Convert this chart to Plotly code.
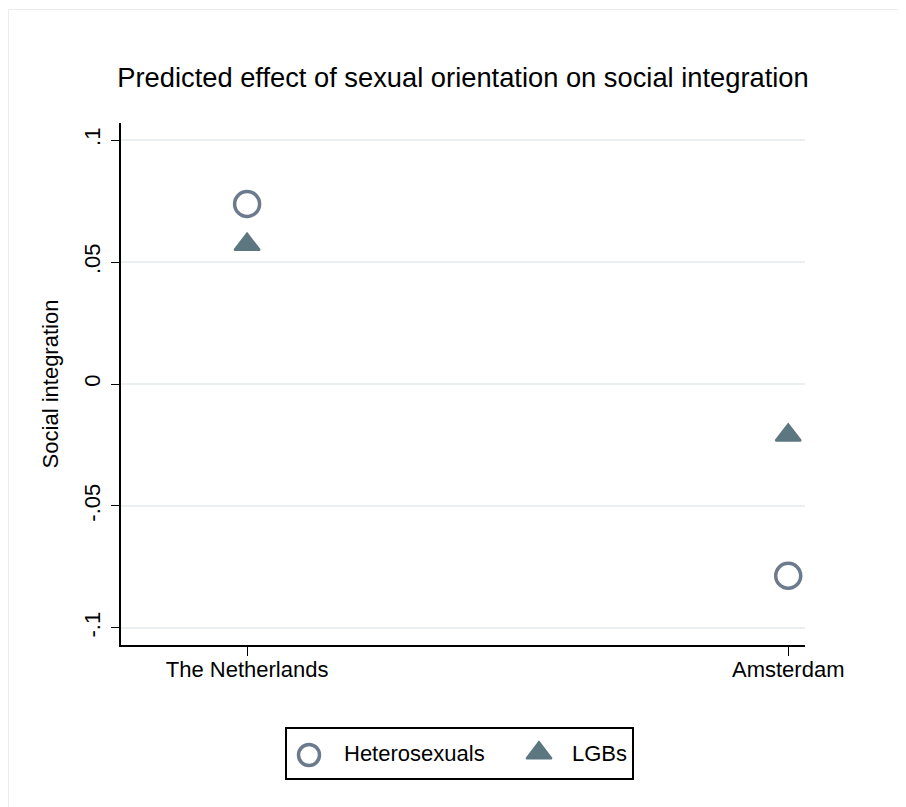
import plotly.graph_objects as go

categories = ["The Netherlands", "Amsterdam"]
cat_pos = [0, 1]
hetero = [0.0738, -0.0786]
lgb = [0.0572, -0.0210]
ytick_vals = [-0.1, -0.05, 0, 0.05, 0.1]
ytick_text = ["-.1", "-.05", "0", ".05", ".1"]
series_names = ["Heterosexuals", "LGBs"]

font_family = "Liberation Sans, Arial, sans-serif"
circle_color = "#6b7a8d"
tri_color = "#5d7781"

# figure is placed at an 8px page margin
W, H = 898, 799
L, R, T, B = 113, 797, 115, 637          # main plot area (figure px)
LL, LR, LT, LB = 279, 624, 721, 770      # legend box (figure px)

def fx(px):
    return px / W

def fy(py):
    return 1 - py / H

fig = go.Figure()
fig.add_trace(go.Scatter(
    x=cat_pos, y=hetero, mode="markers", name=series_names[0], showlegend=False,
    marker=dict(symbol="circle-open", size=25, color=circle_color,
                line=dict(width=3.5, color=circle_color)),
))
fig.add_trace(go.Scatter(
    x=cat_pos, y=lgb, mode="markers", name=series_names[1], showlegend=False,
    marker=dict(symbol="triangle-up", size=22, color=tri_color,
                line=dict(width=2, color=tri_color)),
))

# legend drawn on its own small axes
lw, lh = LR - LL, LB - LT
fig.add_trace(go.Scatter(
    x=[22], y=[lh - 26], mode="markers", xaxis="x2", yaxis="y2", showlegend=False,
    hoverinfo="skip",
    marker=dict(symbol="circle-open", size=21, color=circle_color,
                line=dict(width=3.5, color=circle_color)),
))
fig.add_trace(go.Scatter(
    x=[252], y=[lh - 24], mode="markers", xaxis="x2", yaxis="y2", showlegend=False,
    hoverinfo="skip",
    marker=dict(symbol="triangle-up", size=22, color=tri_color,
                line=dict(width=2, color=tri_color)),
))

fig.update_layout(
    width=W, height=H,
    margin=dict(l=0, r=0, t=0, b=0, autoexpand=False),
    paper_bgcolor="white", plot_bgcolor="white",
    font=dict(family=font_family, size=22, color="black"),
    title=dict(text="Predicted effect of sexual orientation on social integration",
               x=fx(455), xref="paper", xanchor="center",
               y=fy(69), yref="paper", yanchor="middle",
               font=dict(size=27.3, color="black")),
    xaxis=dict(domain=[fx(L), fx(R)], anchor="y",
               range=[-0.233, 1.031], tickvals=cat_pos, ticktext=categories,
               showgrid=False, zeroline=False, showline=True, linecolor="black",
               linewidth=1.5, ticks="outside", ticklen=9, tickwidth=1.3,
               tickcolor="black", tickfont=dict(size=22), ticklabelstandoff=-5),
    yaxis=dict(domain=[fy(B), fy(T)], anchor="x",
               range=[-0.107, 0.107], tickvals=ytick_vals, ticktext=ytick_text,
               showgrid=True, gridcolor="#eaf0f2", gridwidth=2, zeroline=False,
               showline=True, linecolor="black", linewidth=1.5,
               ticks="outside", ticklen=8, tickwidth=1.3, tickcolor="black",
               tickangle=-90, tickfont=dict(size=22), ticklabelstandoff=2,
               title=dict(text="Social integration", font=dict(size=22), standoff=16)),
    xaxis2=dict(domain=[fx(LL), fx(LR)], anchor="y2", range=[0, lw],
                showgrid=False, zeroline=False, showticklabels=False, ticks="",
                showline=True, mirror=True, linecolor="black", linewidth=1.5,
                fixedrange=True),
    yaxis2=dict(domain=[fy(LB), fy(LT)], anchor="x2", range=[0, lh],
                showgrid=False, zeroline=False, showticklabels=False, ticks="",
                showline=True, mirror=True, linecolor="black", linewidth=1.5,
                fixedrange=True),
    annotations=[
        dict(text=series_names[0], xref="x2", yref="y2", x=55, y=lh / 2,
             xanchor="left", yanchor="middle", showarrow=False, font=dict(size=22)),
        dict(text=series_names[1], xref="x2", yref="y2", x=283, y=lh / 2,
             xanchor="left", yanchor="middle", showarrow=False, font=dict(size=22)),
    ],
    shapes=[
        dict(type="line", xref="paper", yref="paper",
             x0=fx(0.5), x1=1, y0=fy(1.5), y1=fy(1.5),
             line=dict(color="#ececec", width=1)),
        dict(type="line", xref="paper", yref="paper",
             x0=fx(0.5), x1=fx(0.5), y0=fy(1.5), y1=0,
             line=dict(color="#ececec", width=1)),
    ],
)

fig.write_html("out.html")
